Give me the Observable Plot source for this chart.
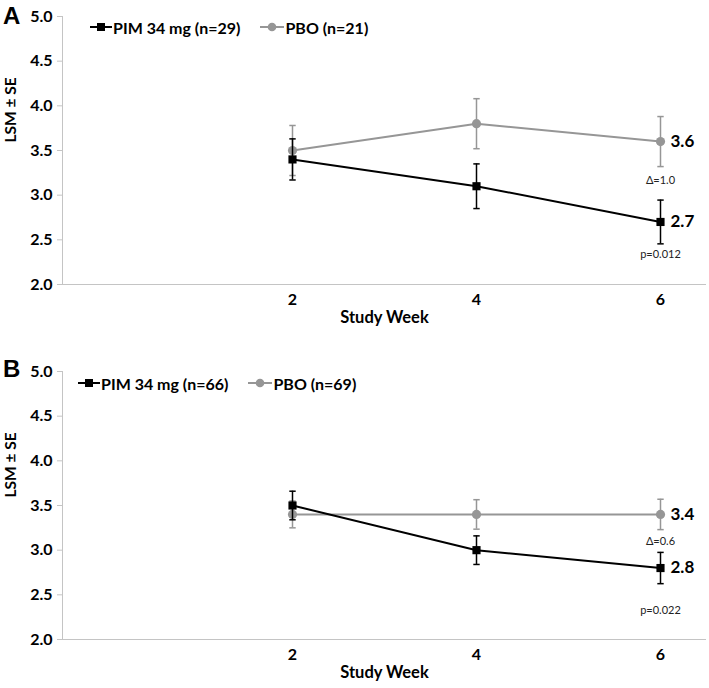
<!DOCTYPE html>
<html>
<head>
<meta charset="utf-8">
<script src="https://cdn.jsdelivr.net/npm/d3@7"></script>
<script src="https://cdn.jsdelivr.net/npm/@observablehq/plot@0.6"></script>
<style>
  html, body { margin: 0; padding: 0; background: #fff; }
  #root { position: relative; width: 709px; height: 688px; overflow: hidden; font-family: Lato, "Open Sans", sans-serif; }
  .panel { position: absolute; left: 0; }
  .letter { position: absolute; left: 3px; font-family: "Liberation Sans", Arial, sans-serif; font-weight: bold; font-size: 24px; line-height: 1; }
  .legend { position: absolute; display: flex; align-items: center; height: 20px; font-weight: bold; font-size: 16px; white-space: nowrap; }
  .legend .item { display: flex; align-items: center; margin-right: 20px; }
  .legend svg { margin-right: 1px; }
</style>
</head>
<body>
<div id="root"></div>
<script>
// ---- data ----
const weeks = [2, 4, 6];
const yTicks = [2.0, 2.5, 3.0, 3.5, 4.0, 4.5, 5.0];

const seriesNames = ["PIM 34 mg", "PBO"];
const seriesColors = ["#000000", "#969696"];

// Panel A
const nA = [29, 21];
const pimA = [3.4, 3.1, 2.7];
const pimA_se = [0.23, 0.25, 0.245];
const pboA = [3.5, 3.8, 3.6];
const pboA_se = [0.28, 0.28, 0.28];
const deltaA = "Δ=1.0";
const deltaA_y = 3.16;
const pA = "p=0.012";
const pA_y = 2.34;

// Panel B
const nB = [66, 69];
const pimB = [3.5, 3.0, 2.8];
const pimB_se = [0.16, 0.16, 0.175];
const pboB = [3.4, 3.4, 3.4];
const pboB_se = [0.15, 0.165, 0.17];
const deltaB = "Δ=0.6";
const deltaB_y = 3.10;
const pB = "p=0.022";
const pB_y = 2.32;

// ---- helpers ----
const capSymbol = {
  draw(ctx, size) {
    const r = Math.sqrt(size / Math.PI);
    ctx.moveTo(-r, 0);
    ctx.lineTo(r, 0);
  }
};

function rows(vals, ses, name) {
  return weeks.map((w, i) => ({week: w, v: vals[i], se: ses[i], lo: vals[i] - ses[i], hi: vals[i] + ses[i], series: name}));
}

function panel({pim, pimSe, pbo, pboSe, delta, deltaY, pText, pY, height, marginBottom}) {
  const gray = rows(pbo, pboSe, "PBO");
  const black = rows(pim, pimSe, "PIM");
  const lastG = gray[gray.length - 1];
  const lastB = black[black.length - 1];
  const errMarks = (d, color) => [
    Plot.ruleX(d, {x: "week", y1: "lo", y2: "hi", stroke: color, strokeWidth: 1.5}),
    Plot.dot(d, {x: "week", y: "lo", symbol: capSymbol, r: 3.2, stroke: color, strokeWidth: 1.5}),
    Plot.dot(d, {x: "week", y: "hi", symbol: capSymbol, r: 3.2, stroke: color, strokeWidth: 1.5})
  ];
  return Plot.plot({
    width: 709,
    height,
    marginLeft: 62,
    marginRight: 3,
    marginTop: 16,
    marginBottom,
    style: {fontFamily: "Lato, 'Open Sans', sans-serif", fontWeight: "bold", fontSize: "16px", color: "#000", background: "transparent"},
    x: {domain: [-0.5, 6.5]},
    y: {domain: [2, 5]},
    marks: [
      Plot.ruleX([-0.5], {stroke: "#c4c4c4", strokeWidth: 1}),
      Plot.ruleY([2], {stroke: "#c4c4c4", strokeWidth: 1}),
      Plot.axisY({ticks: yTicks, tickFormat: d3.format(".1f"), tickSize: 5, tickPadding: 5, stroke: "#c4c4c4", fill: "#000", label: null, fontSize: 16, fontWeight: "bold"}),
      Plot.axisX({ticks: weeks, tickFormat: d => String(d), tickSize: 0, tickPadding: 9, label: null, fill: "#000", fontSize: 16, fontWeight: "bold"}),
      Plot.text(["Study Week"], {frameAnchor: "bottom", dy: 38, fontSize: 16.5, fontWeight: "bold", fill: "#000"}),
      Plot.text(["LSM ± SE"], {frameAnchor: "left", dx: -51, dy: -8, rotate: -90, fontSize: 15.5, fontWeight: "bold", fill: "#000"}),
      // PBO (gray) behind
      ...errMarks(gray, seriesColors[1]),
      Plot.line(gray, {x: "week", y: "v", stroke: seriesColors[1], strokeWidth: 2}),
      Plot.dot(gray, {x: "week", y: "v", symbol: "circle", r: 4.6, fill: seriesColors[1], stroke: "none"}),
      // PIM (black) on top
      ...errMarks(black, seriesColors[0]),
      Plot.line(black, {x: "week", y: "v", stroke: seriesColors[0], strokeWidth: 2}),
      Plot.dot(black, {x: "week", y: "v", symbol: "square", r: 4.6, fill: seriesColors[0], stroke: "none"}),
      // end labels
      Plot.text([lastG, lastB], {x: "week", y: "v", text: d => d.v.toFixed(1), dx: 10, textAnchor: "start", fontSize: 17, fontWeight: "bold", fill: "#000"}),
      Plot.text([{week: lastG.week, y: deltaY, t: delta}, {week: lastB.week, y: pY, t: pText}],
        {x: "week", y: "y", text: "t", fontSize: 11, fontWeight: "normal", fill: "#222"})
    ]
  });
}

function legendHTML(n) {
  const sq = `<svg width="22" height="10"><line x1="0" y1="5" x2="22" y2="5" stroke="${seriesColors[0]}" stroke-width="2"/><rect x="7" y="1" width="8" height="8" fill="${seriesColors[0]}"/></svg>`;
  const ci = `<svg width="24" height="10"><line x1="0" y1="5" x2="24" y2="5" stroke="${seriesColors[1]}" stroke-width="2"/><circle cx="12" cy="5" r="4.3" fill="${seriesColors[1]}"/></svg>`;
  return `<div class="item">${sq}<span>${seriesNames[0]} (n=${n[0]})</span></div><div class="item">${ci}<span>${seriesNames[1]} (n=${n[1]})</span></div>`;
}

const root = document.getElementById("root");

function addPanel(top, letter, letterTop, legendLeft, legendTop, n, chart) {
  const wrap = document.createElement("div");
  wrap.className = "panel";
  wrap.style.top = top + "px";
  wrap.appendChild(chart);
  root.appendChild(wrap);
  const L = document.createElement("div");
  L.className = "letter";
  L.style.top = letterTop + "px";
  L.textContent = letter;
  root.appendChild(L);
  const lg = document.createElement("div");
  lg.className = "legend";
  lg.style.left = legendLeft + "px";
  lg.style.top = legendTop + "px";
  lg.innerHTML = legendHTML(n);
  root.appendChild(lg);
}

addPanel(0, "A", 3.6, 90, 17, nA, panel({pim: pimA, pimSe: pimA_se, pbo: pboA, pboSe: pboA_se, delta: deltaA, deltaY: deltaA_y, pText: pA, pY: pA_y, height: 355, marginBottom: 71}));
addPanel(355, "B", 357, 78, 373, nB, panel({pim: pimB, pimSe: pimB_se, pbo: pboB, pboSe: pboB_se, delta: deltaB, deltaY: deltaB_y, pText: pB, pY: pB_y, height: 333, marginBottom: 49}));
</script>
</body>
</html>
